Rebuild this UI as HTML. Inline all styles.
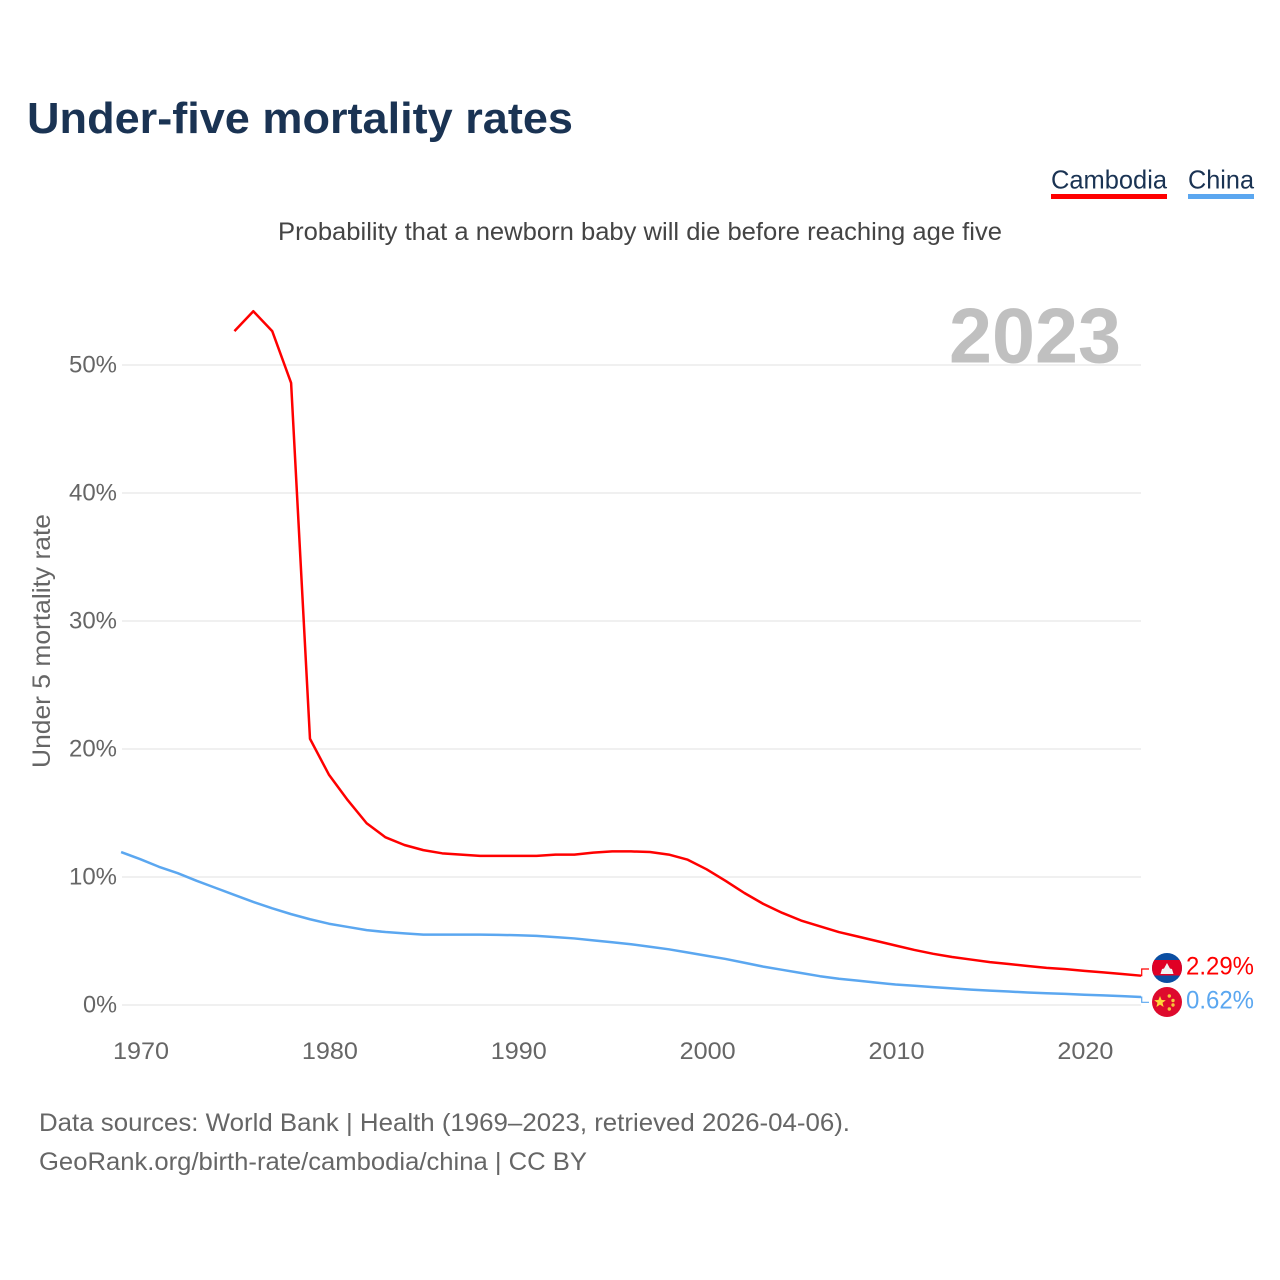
<!DOCTYPE html>
<html lang="en">
<head>
<meta charset="utf-8">
<title>Under-five mortality rates</title>
<style>
  html, body { margin: 0; padding: 0; background: #fff; }
  svg { display: block; font-family: "Liberation Sans", sans-serif; }
</style>
</head>
<body>
<svg id="chart" width="1280" height="1280" viewBox="0 0 1280 1280" xmlns="http://www.w3.org/2000/svg">
  <rect width="1280" height="1280" fill="#fff"/>
  <text x="27" y="133" font-size="44" font-weight="700" fill="#1a3353" textLength="546" lengthAdjust="spacingAndGlyphs">Under-five mortality rates</text>

  <g>
    <text x="1051" y="188.5" font-size="26" fill="#1a3353" textLength="116" lengthAdjust="spacingAndGlyphs">Cambodia</text>
    <rect x="1051" y="194" width="116" height="5" fill="#ff0000"/>
  </g>
  <g>
    <text x="1188" y="188.5" font-size="26" fill="#1a3353" textLength="66" lengthAdjust="spacingAndGlyphs">China</text>
    <rect x="1188" y="194" width="66" height="5" fill="#5ba7f0"/>
  </g>

  <text x="278" y="240" font-size="25" fill="#444" textLength="724" lengthAdjust="spacingAndGlyphs">Probability that a newborn baby will die before reaching age five</text>
  <text x="949" y="362.5" font-size="78" font-weight="700" fill="#c0c0c0" textLength="172" lengthAdjust="spacingAndGlyphs">2023</text>
  <text transform="translate(50 768) rotate(-90)" x="0" y="0" font-size="25" fill="#666" textLength="254" lengthAdjust="spacingAndGlyphs">Under 5 mortality rate</text>

  <g id="grid"></g>
  <g id="yticks"></g>
  <g id="xticks"></g>
  <g id="series"></g>

  <g id="end-labels">
    <path id="connector-cambodia" fill="none" stroke="#ff0000" stroke-width="1.2"/>
    <path id="connector-china" fill="none" stroke="#5ba7f0" stroke-width="1.2"/>

    <g>
      <clipPath id="clip-kh"><circle cx="1167" cy="968" r="15"/></clipPath>
      <g clip-path="url(#clip-kh)">
        <rect x="1152" y="953" width="30" height="30" fill="#0b4ea2"/>
        <rect x="1152" y="960" width="30" height="15.5" fill="#e00025"/>
        <path d="M1160.5 974 L1162 969 L1164 968.5 L1167 963 L1170 968.5 L1172 969 L1173.5 974 Z" fill="#f2f2f2"/>
      </g>
    </g>
    <g>
      <circle cx="1167" cy="1002" r="15" fill="#de0a2d"/>
      <polygon points="1160,996 1161.6,1000 1165.8,1000.2 1162.5,1002.8 1163.6,1007 1160,1004.6 1156.4,1007 1157.5,1002.8 1154.2,1000.2 1158.4,1000" fill="#ffd83a"/>
      <circle cx="1169.3" cy="996" r="1.7" fill="#f5c73a"/>
      <circle cx="1173" cy="1000.5" r="1.7" fill="#f5c73a"/>
      <circle cx="1173" cy="1005" r="1.7" fill="#f5c73a"/>
      <circle cx="1169.3" cy="1009" r="1.7" fill="#f5c73a"/>
    </g>
    <text id="value-cambodia" x="1186" y="974.5" font-size="25" fill="#ff0000" textLength="68" lengthAdjust="spacingAndGlyphs"></text>
    <text id="value-china" x="1186" y="1008.5" font-size="25" fill="#5ba7f0" textLength="68" lengthAdjust="spacingAndGlyphs"></text>
  </g>

  <text x="39" y="1131" font-size="25" fill="#666" textLength="811" lengthAdjust="spacingAndGlyphs">Data sources: World Bank | Health (1969–2023, retrieved 2026-04-06).</text>
  <a><text x="39" y="1170" font-size="25" fill="#666" textLength="548" lengthAdjust="spacingAndGlyphs">GeoRank.org/birth-rate/cambodia/china | CC BY</text></a>
</svg>
<script>
const yTickValues = [0, 10, 20, 30, 40, 50];
const xTickYears = [1970, 1980, 1990, 2000, 2010, 2020];

const cambodiaStartYear = 1975;
const cambodiaValues = [52.65, 54.2, 52.65, 48.6, 20.8, 18.0, 16.0, 14.2, 13.1, 12.5,
  12.1, 11.85, 11.75, 11.65, 11.65, 11.65, 11.65, 11.75, 11.75, 11.9,
  12.0, 12.0, 11.95, 11.75, 11.35, 10.6, 9.7, 8.75, 7.9, 7.2,
  6.6, 6.15, 5.7, 5.35, 5.0, 4.65, 4.3, 4.0, 3.75, 3.55,
  3.35, 3.2, 3.05, 2.9, 2.8, 2.67, 2.55, 2.42, 2.29];

const chinaStartYear = 1969;
const chinaValues = [11.95, 11.4, 10.8, 10.3, 9.7, 9.15, 8.6, 8.05, 7.55, 7.1,
  6.7, 6.35, 6.1, 5.85, 5.7, 5.6, 5.5, 5.5, 5.5, 5.5,
  5.48, 5.45, 5.4, 5.3, 5.2, 5.05, 4.9, 4.75, 4.55, 4.35,
  4.1, 3.85, 3.6, 3.3, 3.0, 2.75, 2.5, 2.25, 2.05, 1.9,
  1.75, 1.6, 1.5, 1.4, 1.3, 1.2, 1.12, 1.05, 0.98, 0.92,
  0.87, 0.8, 0.75, 0.69, 0.62];

const SVG_NS = 'http://www.w3.org/2000/svg';
const xScale = year => 140 + (year - 1970) * 18.887;
const yScale = pct => 1005 - pct * 12.8;
const PLOT_LEFT = 122;
const PLOT_RIGHT = 1141;
const X_LABEL_OFFSET = 1;

function make(tag, attrs, parent) {
  const el = document.createElementNS(SVG_NS, tag);
  for (const key in attrs) el.setAttribute(key, attrs[key]);
  parent.appendChild(el);
  return el;
}

const grid = document.getElementById('grid');
const yticks = document.getElementById('yticks');
const xticks = document.getElementById('xticks');
const series = document.getElementById('series');

yTickValues.forEach(v => {
  const line = make('line', { x1: PLOT_LEFT, x2: PLOT_RIGHT, y1: yScale(v), y2: yScale(v), stroke: '#ececec', 'stroke-width': 1.6 }, grid);
  
  

  const str = v + '%';
  const width = v === 0 ? 34 : 48;
  const label = make('text', { x: 117 - width, y: yScale(v) + 7.5, 'font-size': 24, fill: '#666', textLength: width, lengthAdjust: 'spacingAndGlyphs' }, yticks);
  
  
  label.textContent = str;
});

xTickYears.forEach(yr => {
  const label = make('text', { x: xScale(yr) + X_LABEL_OFFSET - 28, y: 1059, 'font-size': 24, fill: '#666', textLength: 56, lengthAdjust: 'spacingAndGlyphs' }, xticks);
  
  
  label.textContent = String(yr);
});

function seriesPoints(startYear, values) {
  return values.map((v, i) => xScale(startYear + i).toFixed(2) + ',' + yScale(v).toFixed(2)).join(' ');
}

const chinaLine = make('polyline', { points: seriesPoints(chinaStartYear, chinaValues), fill: 'none', stroke: '#5ba7f0', 'stroke-width': 2.5, 'stroke-linejoin': 'round' }, series);



const cambodiaLine = make('polyline', { points: seriesPoints(cambodiaStartYear, cambodiaValues), fill: 'none', stroke: '#ff0000', 'stroke-width': 2.5, 'stroke-linejoin': 'round' }, series);



const lastCambodia = cambodiaValues[cambodiaValues.length - 1];
const lastChina = chinaValues[chinaValues.length - 1];
const endX = xScale(cambodiaStartYear + cambodiaValues.length - 1);
document.getElementById('connector-cambodia').setAttribute('d',
  `M${endX} ${yScale(lastCambodia)} H${endX + 0.7} V969 H1149`);
document.getElementById('connector-china').setAttribute('d',
  `M${endX} ${yScale(lastChina)} H${endX + 0.7} V1002.3 H1149`);
document.getElementById('value-cambodia').textContent = lastCambodia.toFixed(2) + '%';
document.getElementById('value-china').textContent = lastChina.toFixed(2) + '%';
</script>
</body>
</html>
